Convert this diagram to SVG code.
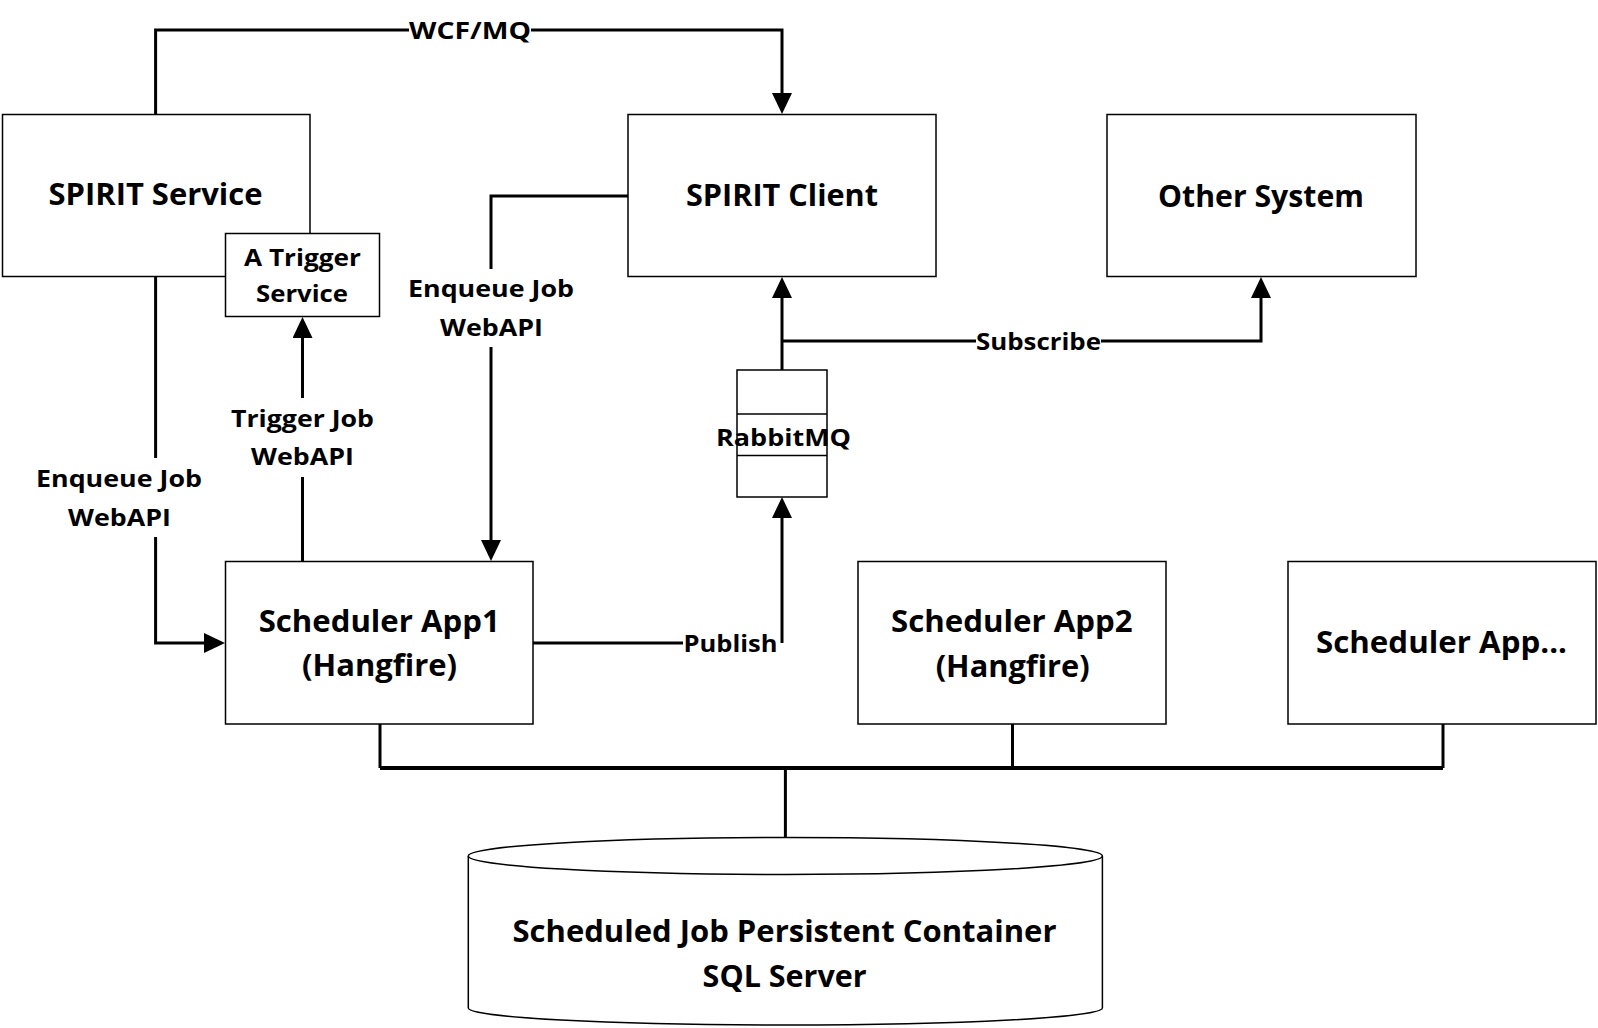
<svg xmlns="http://www.w3.org/2000/svg" width="1598" height="1028" viewBox="0 0 1598 1028">
<style>
.box{fill:#fff;stroke:#000;stroke-width:1.5}
.conn{fill:none;stroke:#000;stroke-width:3}
.bus{fill:none;stroke:#000;stroke-width:4}
.t{font-family:"Open Sans","DejaVu Sans",sans-serif;font-weight:bold;fill:#000}
.main{font-size:31px}
.lbl{font-size:24px}
</style>
<defs>
<marker id="arr" markerUnits="userSpaceOnUse" viewBox="0 0 21 20" refX="0" refY="10" markerWidth="21" markerHeight="20" orient="auto">
<path d="M0,0 L21,10 L0,20 Z" fill="#000"/>
</marker>
</defs>
<rect width="1598" height="1028" fill="#fff"/>

<g id="connectors">
<path class="conn" d="M155.6,114 V30 H409"/>
<path class="conn" d="M531,30 H782 V93" marker-end="url(#arr)"/>
<path class="conn" d="M628,196 H491 V269"/>
<path class="conn" d="M491,347 V540" marker-end="url(#arr)"/>
<path class="conn" d="M155.6,276 V458"/>
<path class="conn" d="M155.6,537 V643 H204" marker-end="url(#arr)"/>
<path class="conn" d="M302.5,561 V477"/>
<path class="conn" d="M302.5,398 V338" marker-end="url(#arr)"/>
<path class="conn" d="M782,370 V298" marker-end="url(#arr)"/>
<path class="conn" d="M782,341 H976"/>
<path class="conn" d="M1101,341 H1261 V298" marker-end="url(#arr)"/>
<path class="conn" d="M533,643 H683"/>
<path class="conn" d="M782,643 V518" marker-end="url(#arr)"/>
<path class="conn" d="M380,724 V768"/>
<path class="conn" d="M1012.5,724 V768"/>
<path class="conn" d="M1443,724 V768"/>
<path class="bus" d="M380,768 H1443"/>
<path class="conn" d="M785.4,768 V838"/>
<text class="t lbl" x="409" y="39" textLength="122" lengthAdjust="spacingAndGlyphs">WCF/MQ</text>
<text class="t lbl" x="408" y="297" textLength="166" lengthAdjust="spacingAndGlyphs">Enqueue Job</text>
<text class="t lbl" x="440" y="336" textLength="103" lengthAdjust="spacingAndGlyphs">WebAPI</text>
<text class="t lbl" x="36" y="487" textLength="166" lengthAdjust="spacingAndGlyphs">Enqueue Job</text>
<text class="t lbl" x="68" y="526" textLength="103" lengthAdjust="spacingAndGlyphs">WebAPI</text>
<text class="t lbl" x="231" y="427" textLength="143" lengthAdjust="spacingAndGlyphs">Trigger Job</text>
<text class="t lbl" x="251" y="465" textLength="103" lengthAdjust="spacingAndGlyphs">WebAPI</text>
<text class="t lbl" x="976" y="350" textLength="125" lengthAdjust="spacingAndGlyphs">Subscribe</text>
<text class="t lbl" x="683.5" y="652" textLength="94" lengthAdjust="spacingAndGlyphs">Publish</text>
</g>

<g id="spirit-service">
<rect class="box" x="2.5" y="114.5" width="307.5" height="162"/>
<text class="t main" x="48.5" y="205" textLength="214" lengthAdjust="spacingAndGlyphs">SPIRIT Service</text>
</g>

<g id="trigger-service">
<rect class="box" x="225.5" y="233.5" width="154" height="83"/>
<text class="t lbl" x="244" y="266" textLength="117" lengthAdjust="spacingAndGlyphs">A Trigger</text>
<text class="t lbl" x="256" y="302" textLength="92" lengthAdjust="spacingAndGlyphs">Service</text>
</g>

<g id="spirit-client">
<rect class="box" x="628" y="114.5" width="308" height="162"/>
<text class="t main" x="686" y="206" textLength="192" lengthAdjust="spacingAndGlyphs">SPIRIT Client</text>
</g>

<g id="other-system">
<rect class="box" x="1107" y="114.5" width="309" height="162"/>
<text class="t main" x="1158" y="207" textLength="206" lengthAdjust="spacingAndGlyphs">Other System</text>
</g>

<g id="rabbitmq">
<rect class="box" x="737" y="370" width="90" height="127"/>
<line x1="737" y1="414" x2="827" y2="414" stroke="#000" stroke-width="1.5"/>
<line x1="737" y1="455.5" x2="827" y2="455.5" stroke="#000" stroke-width="1.5"/>
<text class="t lbl" x="716" y="446" textLength="135" lengthAdjust="spacingAndGlyphs">RabbitMQ</text>
</g>

<g id="scheduler-app1">
<rect class="box" x="225.5" y="561.5" width="307.5" height="162.5"/>
<text class="t main" x="258.7" y="632" textLength="241" lengthAdjust="spacingAndGlyphs">Scheduler App1</text>
<text class="t main" x="302" y="676" textLength="155" lengthAdjust="spacingAndGlyphs">(Hangfire)</text>
</g>

<g id="scheduler-app2">
<rect class="box" x="858" y="561.5" width="308" height="162.5"/>
<text class="t main" x="891" y="631.5" textLength="241.6" lengthAdjust="spacingAndGlyphs">Scheduler App2</text>
<text class="t main" x="935.7" y="676.5" textLength="154" lengthAdjust="spacingAndGlyphs">(Hangfire)</text>
</g>

<g id="scheduler-app-more">
<rect class="box" x="1288" y="561.5" width="308" height="162.5"/>
<text class="t main" x="1316" y="653" textLength="251" lengthAdjust="spacingAndGlyphs">Scheduler App...</text>
</g>

<g id="sql-server">
<path class="box" d="M468.3,856 A317,18.5 0 0 1 1102.4,856 V1008 A317,17 0 0 1 468.3,1008 Z"/>
<path fill="none" stroke="#000" stroke-width="1.5" d="M468.3,856 A317,18.5 0 0 0 1102.4,856"/>
<text class="t main" x="512.5" y="941.7" textLength="544" lengthAdjust="spacingAndGlyphs">Scheduled Job Persistent Container</text>
<text class="t main" x="702.6" y="986.7" textLength="164" lengthAdjust="spacingAndGlyphs">SQL Server</text>
</g>
</svg>
